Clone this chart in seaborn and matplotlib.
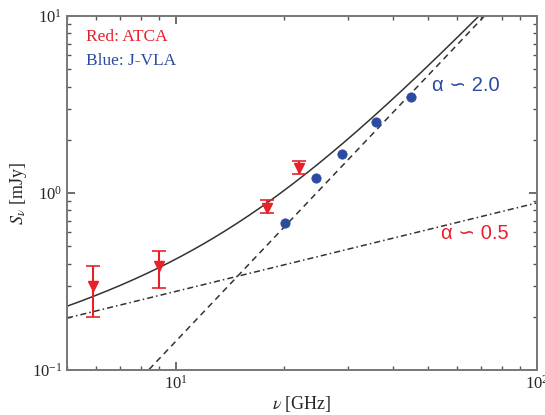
import matplotlib
matplotlib.use("Agg")
import matplotlib.pyplot as plt
import seaborn as sns
import numpy as np
import pandas as pd

# ATCA (red) flux densities with errors
atca_freq = [5.9, 9.0, 17.9, 21.9]
atca_flux = [0.30, 0.39, 0.83, 1.38]
atca_lo = [0.20, 0.29, 0.77, 1.28]
atca_hi = [0.39, 0.47, 0.91, 1.52]

# J-VLA (blue)
vla_freq = [20.1, 24.5, 28.9, 35.9, 44.9]
vla_flux = [0.68, 1.22, 1.66, 2.52, 3.48]

# model components: S = norm * (nu / nu0) ** alpha
thin_norm, thin_nu0, thin_alpha = 0.197, 5.0, 0.5
thick_norm, thick_nu0, thick_alpha = 0.1, 8.4, 2.15

RED = "#e8202a"
BLUE = "#2b4aa0"
GREY = "#333333"

sns.set_style("ticks")
plt.rcParams["font.family"] = ["Liberation Serif", "DejaVu Serif"]
plt.rcParams["mathtext.fontset"] = "stix"

fig = plt.figure(figsize=(5.45, 4.15), dpi=100)
ax = fig.add_axes([0.123, 0.108, 0.862, 0.853])

nu = np.logspace(np.log10(5), 2, 300)
thin = thin_norm * (nu / thin_nu0) ** thin_alpha
thick = thick_norm * (nu / thick_nu0) ** thick_alpha
model = pd.DataFrame({"nu": nu, "thin": thin, "thick": thick, "total": thin + thick})

ax.plot(model["nu"], model["thin"], color=GREY, lw=1.1, linestyle=(0, (4, 2, 1, 2)))
ax.plot(model["nu"], model["thick"], color=GREY, lw=1.1, linestyle=(0, (4, 3)))
sns.lineplot(data=model, x="nu", y="total", ax=ax, color=GREY, lw=1.1)

yerr = [np.array(atca_flux) - np.array(atca_lo), np.array(atca_hi) - np.array(atca_flux)]
ax.errorbar(atca_freq, atca_flux, yerr=yerr, fmt="v", color=RED, ms=7,
            capsize=5, elinewidth=1.5, capthick=1.2, zorder=4)
sns.scatterplot(x=vla_freq, y=vla_flux, ax=ax, color=BLUE, s=45, edgecolor=BLUE, zorder=5)

ax.set_xscale("log")
ax.set_yscale("log")
ax.set_xlim(5, 100)
ax.set_ylim(0.1, 10)

ax.tick_params(which="both", direction="in", top=True, right=True, labelsize=12,
               color="#555555")
ax.tick_params(which="major", length=6, width=1.2)
ax.tick_params(which="minor", length=3, width=1.0)
for s in ax.spines.values():
    s.set_color("#777777")
    s.set_linewidth(1.4)

ax.set_xlabel(r"$\nu$ [GHz]", fontsize=13, labelpad=1)
ax.set_ylabel(r"$S_{\nu}$ [mJy]", fontsize=13, labelpad=2)

ax.text(0.04, 0.93, "Red: ATCA", color=RED, fontsize=12.5, transform=ax.transAxes)
ax.text(0.04, 0.863, "Blue: J-VLA", color=BLUE, fontsize=12.5, transform=ax.transAxes)

sans = ["Liberation Sans", "DejaVu Sans"]
ax.text(0.777, 0.79, "α ∽ 2.0", color=BLUE, fontsize=14.5, family=sans,
        transform=ax.transAxes)
ax.text(0.797, 0.37, "α ∽ 0.5", color=RED, fontsize=14.5, family=sans,
        transform=ax.transAxes)

fig.savefig("out.png", dpi=100)
